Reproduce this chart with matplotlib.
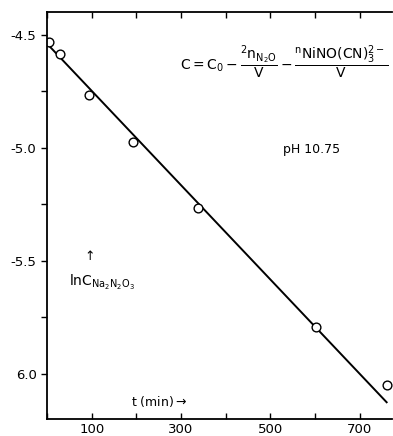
import numpy as np
import matplotlib.pyplot as plt
from matplotlib.ticker import FixedLocator

# data
t_min = [4, 28, 93, 192, 339, 602, 760]
ln_c = [-4.531, -4.588, -4.769, -4.976, -5.267, -5.795, -6.051]
fit_t = [0, 760]
fit_ln_c = [-4.54, -6.126]

y_ticks = [-4.5, -5.0, -5.5, -6.0]
y_labels = ['-4.5', '-5.0', '-5.5', '6.0']
y_minor = [-4.75, -5.25, -5.75]
x_ticks = [100, 300, 500, 700]
x_labels = ['100', '300', '500', '700']
x_minor = [0, 200, 400, 600]

plt.rcParams['mathtext.fontset'] = 'dejavusans'
fig = plt.figure(figsize=(3.93, 4.36), dpi=100)
ax = fig.add_axes([0.1196, 0.039, 0.879, 0.9335])

ax.plot(fit_t, fit_ln_c, color='black', lw=1.4)
ax.plot(t_min, ln_c, 'o', mfc='white', mec='black', ms=6.3, mew=1.0)

ax.set_xlim(0, 773)
ax.set_ylim(-6.2, -4.4)
ax.spines['right'].set_visible(False)
for s in ax.spines.values():
    s.set_linewidth(1.3)

ax.yaxis.set_major_locator(FixedLocator(y_ticks))
ax.set_yticklabels(y_labels, fontsize=9.5)
ax.yaxis.set_minor_locator(FixedLocator(y_minor))
ax.xaxis.set_major_locator(FixedLocator(x_ticks))
ax.set_xticklabels(x_labels, fontsize=9.5)
ax.xaxis.set_minor_locator(FixedLocator(x_minor))
ax.tick_params(axis='y', which='both', direction='out', length=4, width=1, left=True, right=False)
ax.tick_params(axis='x', which='both', direction='in', length=4, width=1, top=True, bottom=True, pad=3)

ax.text(298, -4.625, r'$\mathrm{C = C_0} - \dfrac{\mathrm{{}^2n_{N_2O}}}{\mathrm{V}} - \dfrac{\mathrm{{}^n NiNO(CN)_3^{2-}}}{\mathrm{V}}$',
        fontsize=10, va='center', ha='left')
ax.text(593, -5.01, 'pH 10.75', fontsize=9, ha='center', va='center')
ax.text(93, -5.478, r'$\uparrow$', fontsize=9, ha='center', va='center')
ax.text(49, -5.597, r'$\mathrm{lnC_{Na_2N_2O_3}}$', fontsize=10, ha='left', va='center')
ax.text(187, -6.121, r't (min)$\rightarrow$', fontsize=9, ha='left', va='center')

fig.savefig('out.png', dpi=100)
